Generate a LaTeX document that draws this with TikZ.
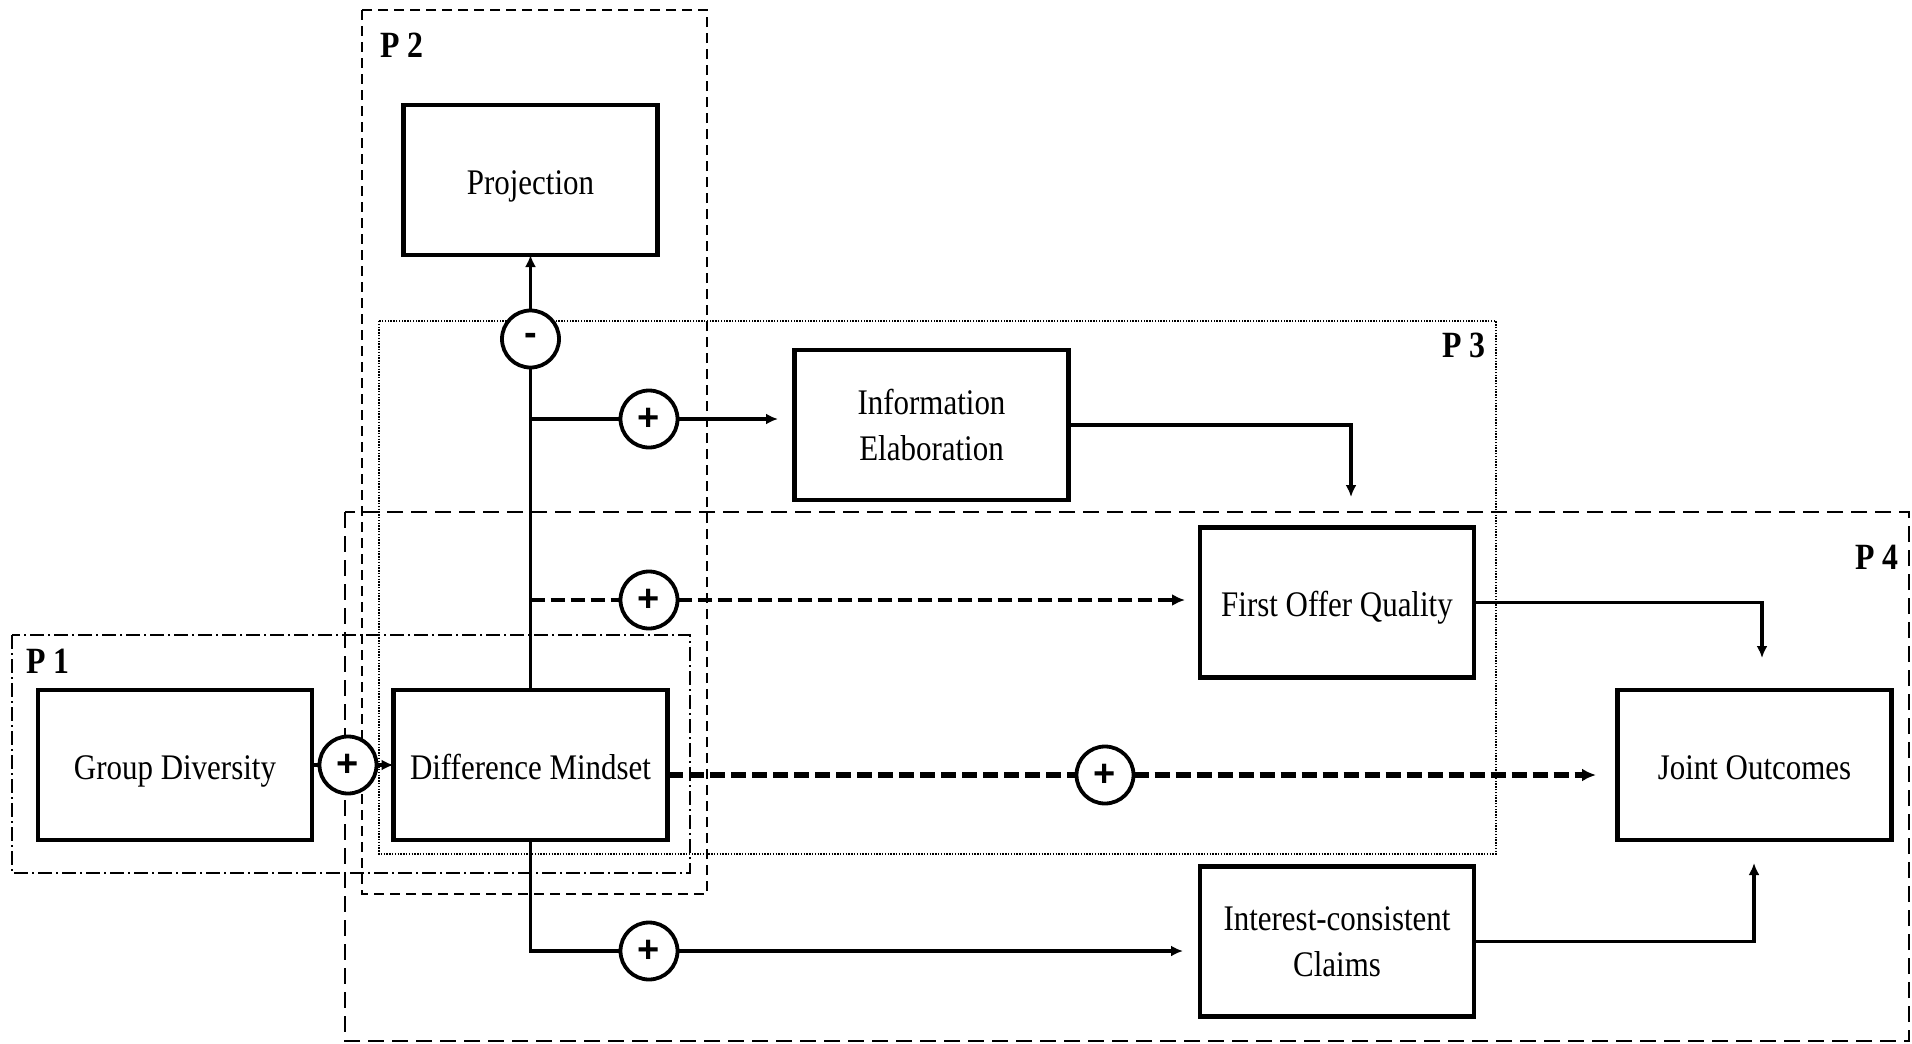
\documentclass[tikz,border=0pt]{standalone}
\usepackage{fontspec}
\setmainfont{Liberation Serif}[FakeStretch=0.86]
\newfontfamily\signfont{Liberation Sans}
\usetikzlibrary{arrows.meta}
\begin{document}
\begin{tikzpicture}[x=0.5pt,y=-0.5pt,
  box/.style={draw,line width=2.2pt,minimum width=137pt,minimum height=75pt,inner sep=0pt,outer sep=0pt,align=center,fill=white,font=\fontsize{18}{23}\selectfont},
  onebox/.style={box,text height=18pt,text depth=4pt},
  sign/.style={draw,circle,line width=1.9pt,minimum size=28.5pt,inner sep=0pt,outer sep=0pt,fill=white,font=\signfont\bfseries\fontsize{19}{19}\selectfont},
  conn/.style={line width=1.8pt},
  arr/.style={conn,-{Latex[length=6pt,width=5.5pt]}},
  dline/.style={line width=2.1pt,dash pattern=on 7pt off 3pt},
  dthick/.style={line width=2.6pt,dash pattern=on 7.5pt off 3pt},
  darr/.style={dline,-{Latex[length=6.5pt,width=6pt]}},
  dtarr/.style={dthick,-{Latex[length=7pt,width=6.5pt]}},
  plabel/.style={font=\bfseries\fontsize{18.5}{18.5}\selectfont,inner sep=0pt,anchor=base west},
  pone/.style={line width=0.8pt,dash pattern=on 7pt off 2pt on 1pt off 2pt},
  ptwo/.style={line width=0.8pt,dash pattern=on 5pt off 3pt},
  pthree/.style={line width=0.7pt,dash pattern=on 0.7pt off 0.7pt},
  pfour/.style={line width=0.8pt,dash pattern=on 8pt off 4pt}
]
\useasboundingbox[fill=white] (0,0) rectangle (1912,1044);
% group frames
\draw[ptwo] (362,10) rectangle (707,894);
\draw[pthree] (379,321) rectangle (1496,854);
\draw[pfour] (345,512) rectangle (1909,1041);
\draw[pone] (12,635) rectangle (690,873);
\node[plabel] (l2) at (380,57) {P 2};
\node[plabel] (l3) at (1442,357) {P 3};
\node[plabel] (l4) at (1855,569) {P 4};
\node[plabel] (l1) at (26,673) {P 1};
% boxes
\node[onebox,minimum width=127pt] (proj) at (530.5,180) {Projection};
\node[box] (ie) at (931.5,425) {Information\\Elaboration};
\node[onebox] (foq) at (1337,602.5) {First Offer Quality};
\node[onebox] (gd) at (175,765) {Group Diversity};
\node[onebox] (dm) at (530.5,765) {Difference Mindset};
\node[onebox] (jo) at (1754.5,765) {Joint Outcomes};
\node[box] (icc) at (1337,941.5) {Interest-consistent\\Claims};
% signs
\node[sign] (sm) at (530.5,339) {-};
\node[sign] (s2) at (649,419) {+};
\node[sign] (s3) at (649,600) {+};
\node[sign] (s1) at (348,765) {+};
\node[sign] (s4) at (1105,775) {+};
\node[sign] (s5) at (649,951) {+};
% helper coordinates
\coordinate (j1) at (530.5,419);
\coordinate (j2) at (530.5,600);
\coordinate (e2) at (778,419);
\coordinate (e3) at (1185,600);
\coordinate (d0) at (668,775);
\coordinate (e4) at (1596,775);
\coordinate (e5) at (1183,951);
\coordinate (t1) at (1351,497);
\coordinate (t2) at (1762,658);
\coordinate (t3) at (1754,863);
% connectors
\draw[conn] (gd.east) -- (s1);
\draw[arr] (s1) -- (dm.west);
\draw[conn] (dm.north) -- (sm);
\draw[arr] (sm) -- (proj.south);
\draw[conn] (j1) -- (s2);
\draw[arr] (s2) -- (e2);
\draw[dline] (j2) -- (s3);
\draw[darr] (s3) -- (e3);
\draw[dthick] (d0) -- (s4);
\draw[dtarr] (s4) -- (e4);
\draw[conn] (dm.south) |- (s5);
\draw[arr] (s5) -- (e5);
\draw[arr] (ie.east) -| (t1);
\draw[arr] (foq.east) -| (t2);
\draw[arr] (icc.east) -| (t3);
\end{tikzpicture}
\end{document}
